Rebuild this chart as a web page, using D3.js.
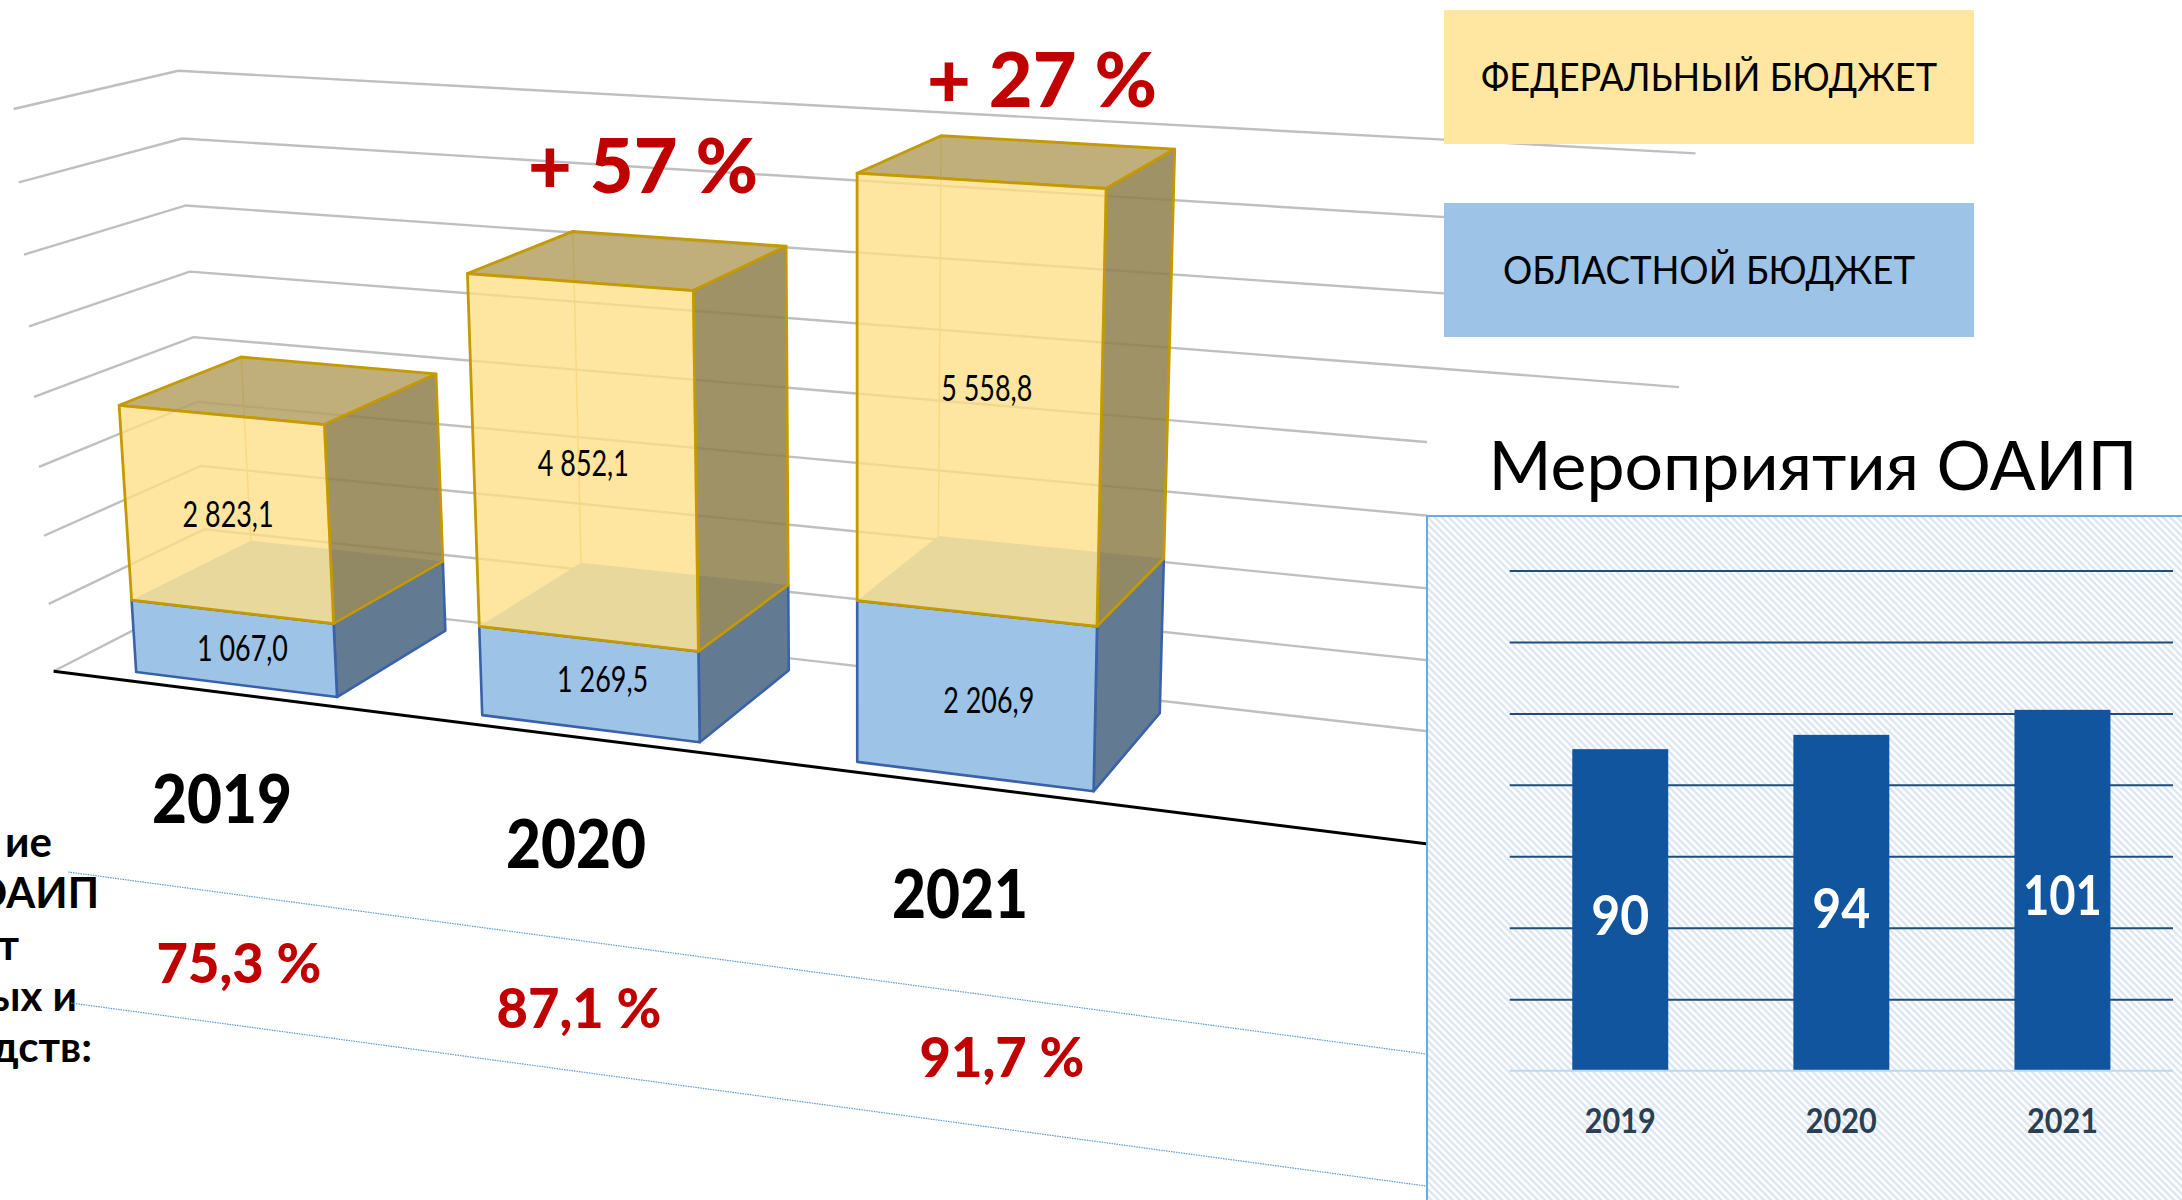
<!DOCTYPE html>
<html>
<head>
<meta charset="utf-8">
<title>Бюджет ОАИП</title>
<script src="https://cdnjs.cloudflare.com/ajax/libs/d3/7.8.5/d3.min.js"></script>
<style>
    html, body { margin: 0; padding: 0; background: #fff; overflow: hidden; }
    text { font-family: Lato, "Open Sans", sans-serif; }
</style>
</head>
<body>
<div id="chart"></div>
<script>
// data
var years = ["2019", "2020", "2021"];
var regional = [1067.0, 1269.5, 2206.9];
var federal = [2823.1, 4852.1, 5558.8];
var growthLabels = ["+ 57 %", "+ 27 %"];
var shareLabels = ["75,3 %", "87,1 %", "91,7 %"];
var legendLabels = ["ФЕДЕРАЛЬНЫЙ БЮДЖЕТ", "ОБЛАСТНОЙ БЮДЖЕТ"];
var sideLines = ["ие", "ОАИП", "т", "ых и", "дств:"];
var eventCounts = [90, 94, 101];
var panelTitle = "Мероприятия ОАИП";

function init() {
    var w = 2182;
    var h = 1200;

    var svg = d3.select("#chart")
                .append("svg")
                .attr("width", w)
                .attr("height", h);

    var defs = svg.append("defs");
    var hatch = defs.append("pattern")
                .attr("id", "hatch")
                .attr("patternUnits", "userSpaceOnUse")
                .attr("width", 5)
                .attr("height", 5)
                .attr("patternTransform", "rotate(45)");
    hatch.append("rect").attr("width", 5).attr("height", 5).attr("fill", "#fff");
    hatch.append("rect").attr("width", 5).attr("height", 2.5).attr("fill", "#dce6f2");

    // 3d camera: three vanishing points and the floor corner of the chart
    var vpX = [-8470, -400], vpY = [860, 12000], vpZ = [2077, -370];
    var origin = [53.6, 671.3];
    var kx = -0.13877, ky = -0.04729, kz = 0.08261;

    function project(x, y, z) {
        var a = kx * x, b = ky * y, c = kz * z;
        var d = a + b + c + 1;
        return [
            (a * vpX[0] + b * vpY[0] + c * vpZ[0] + origin[0]) / d,
            (a * vpX[1] + b * vpY[1] + c * vpZ[1] + origin[1]) / d
        ];
    }

    // a 4th empty slot sits behind the small panel
    var x3 = d3.scaleBand()
                .domain(years.concat([""]))
                .range([0, 1.1136])
                .paddingInner(0.41)
                .paddingOuter(0.205);
    var y3 = d3.scaleLinear().domain([0, 8000]).range([0, 1]);
    var z3 = d3.scaleLinear().domain([0, 1]).range([0.09, 0.875]);

    var line = d3.line();

    function face(pts) {
        return line(pts.map(function(p) { return project(p[0], p[1], p[2]); })) + "Z";
    }

    // squeeze a label to the width it has in the picture
    function fit(sel, width) {
        return sel.attr("textLength", width).attr("lengthAdjust", "spacingAndGlyphs");
    }

    // gridlines on the two walls
    var grid = svg.append("g")
                .attr("fill", "none")
                .attr("stroke", "#bfbfbf")
                .attr("stroke-width", 2.4);
    y3.ticks(8).forEach(function(t) {
        grid.append("path").attr("d", line([
            project(0, y3(t), 0),
            project(0, y3(t), 1),
            project(1.1136, y3(t), 1)
        ]));
    });

    // the black axis at the front of the floor
    svg.append("path")
        .attr("d", line([project(0, 0, 0), project(1.1136, 0, 0)]))
        .attr("fill", "none")
        .attr("stroke", "#000")
        .attr("stroke-width", 3);

    // stacked boxes
    var bars = svg.append("g").attr("stroke-linejoin", "round");
    years.forEach(function(year, i) {
        var x0 = x3(year), x1 = x0 + x3.bandwidth();
        var zf = z3(0), zb = z3(1);
        var y0 = y3(0), y1 = y3(regional[i]), y2 = y3(regional[i] + federal[i]);

        // regional part is solid
        var blue = bars.append("g").attr("stroke", "#3a62a8").attr("stroke-width", 2.6);
        blue.append("path")
            .attr("d", face([[x0, y1, zf], [x1, y1, zf], [x1, y1, zb], [x0, y1, zb]]))
            .attr("fill", "#9dc3e6").attr("stroke", "none");
        blue.append("path")
            .attr("d", face([[x1, y0, zf], [x1, y0, zb], [x1, y1, zb], [x1, y1, zf]]))
            .attr("fill", "#637a93");
        blue.append("path")
            .attr("d", face([[x0, y0, zf], [x1, y0, zf], [x1, y1, zf], [x0, y1, zf]]))
            .attr("fill", "#9dc3e6");

        // federal part is see-through
        var gold = bars.append("g")
                    .attr("stroke", "#c49a00")
                    .attr("stroke-width", 2.8);
        gold.append("path")
            .attr("d", line([project(x0, y1, zb), project(x0, y2, zb)]))
            .attr("fill", "none")
            .attr("stroke", "#eec964")
            .attr("stroke-width", 1.5);
        gold.append("path")
            .attr("d", face([[x0, y2, zf], [x1, y2, zf], [x1, y2, zb], [x0, y2, zb]]))
            .attr("fill", "#b5a163")
            .attr("fill-opacity", 0.85);
        gold.append("path")
            .attr("d", face([[x1, y1, zf], [x1, y1, zb], [x1, y2, zb], [x1, y2, zf]]))
            .attr("fill", "#8f7f4c")
            .attr("fill-opacity", 0.85);
        gold.append("path")
            .attr("d", face([[x0, y1, zf], [x1, y1, zf], [x1, y2, zf], [x0, y2, zf]]))
            .attr("fill", "#fede85")
            .attr("fill-opacity", 0.78);
    });

    // value labels sit on the front faces, nudged a little like in the picture
    var nudgeBlue = [[9, 1], [14, -4], [14, 6]];
    var nudgeGold = [[2, 1], [0, 1], [9, -12]];
    var fmt = function(v) {
        var s = v.toFixed(1).replace(".", ",");
        return s.replace(/^(\d)(\d{3})/, "$1 $2");
    };
    function valueLabel(year, v, mid, nudge) {
        var p = project(x3(year) + x3.bandwidth() / 2, y3(mid), z3(0));
        fit(svg.append("text")
            .attr("x", p[0] + nudge[0])
            .attr("y", p[1] + nudge[1] + 12)
            .attr("text-anchor", "middle")
            .attr("font-size", 36)
            .attr("fill", "#000")
            .text(fmt(v)), 91);
    }
    years.forEach(function(year, i) {
        valueLabel(year, federal[i], regional[i] + federal[i] / 2, nudgeGold[i]);
        valueLabel(year, regional[i], regional[i] / 2, nudgeBlue[i]);
    });

    // growth notes above the boxes
    var growthAt = [[643, 193], [1042, 107]];
    growthLabels.forEach(function(t, i) {
        fit(svg.append("text")
            .attr("x", growthAt[i][0])
            .attr("y", growthAt[i][1])
            .attr("text-anchor", "middle")
            .attr("font-size", 76)
            .attr("font-weight", 900)
            .attr("fill", "#c00000")
            .text(t), 230);
    });

    // years and shares under the floor
    var yearAt = [[222, 823], [576, 868], [960, 918]];
    var yearWidth = [140, 140, 136];
    var shareAt = [[239, 983], [579, 1028], [1002, 1077]];
    years.forEach(function(year, i) {
        fit(svg.append("text")
            .attr("x", yearAt[i][0])
            .attr("y", yearAt[i][1])
            .attr("text-anchor", "middle")
            .attr("font-size", 66)
            .attr("font-weight", 900)
            .attr("fill", "#000")
            .text(year), yearWidth[i]);
        fit(svg.append("text")
            .attr("x", shareAt[i][0])
            .attr("y", shareAt[i][1])
            .attr("text-anchor", "middle")
            .attr("font-size", 55)
            .attr("font-weight", 900)
            .attr("fill", "#c00000")
            .text(shareLabels[i]), 165);
    });

    // text running in from the left edge
    var sideAt = [[52, 857], [99, 908], [19, 960], [77, 1011], [92, 1062]];
    sideLines.forEach(function(t, i) {
        svg.append("text")
            .attr("x", sideAt[i][0])
            .attr("y", sideAt[i][1])
            .attr("text-anchor", "end")
            .attr("font-size", 42)
            .attr("font-weight", 700)
            .attr("fill", "#000")
            .text(t);
    });

    // dotted table rules
    var rules = [[[68, 872], [1426, 1054]], [[71, 1003], [1426, 1186]]];
    rules.forEach(function(r) {
        svg.append("path")
            .attr("d", line(r))
            .attr("fill", "none")
            .attr("stroke", "#5b9bd5")
            .attr("stroke-width", 1.2)
            .attr("stroke-dasharray", "1.5 1");
    });

    // legend
    var legendTop = [10, 203];
    var legendColor = ["#ffe6a1", "#9dc3e6"];
    var legendWidth = [456, 412];
    legendLabels.forEach(function(t, i) {
        svg.append("rect")
            .attr("x", 1444)
            .attr("y", legendTop[i])
            .attr("width", 530)
            .attr("height", 134)
            .attr("fill", legendColor[i]);
        fit(svg.append("text")
            .attr("x", 1709)
            .attr("y", legendTop[i] + 81)
            .attr("text-anchor", "middle")
            .attr("font-size", 38)
            .attr("fill", "#000")
            .text(t), legendWidth[i]);
    });

    // small panel on the right
    svg.append("rect")
        .attr("x", 1427)
        .attr("y", 400)
        .attr("width", w - 1427)
        .attr("height", 116)
        .attr("fill", "#fff");
    svg.append("text")
        .attr("x", 1813)
        .attr("y", 490)
        .attr("text-anchor", "middle")
        .attr("font-size", 68)
        .attr("fill", "#000")
        .text(panelTitle);
    svg.append("rect")
        .attr("x", 1427)
        .attr("y", 516)
        .attr("width", w - 1427 + 5)
        .attr("height", h - 516 + 5)
        .attr("fill", "url(#hatch)")
        .attr("stroke", "#6fa8dc")
        .attr("stroke-width", 2);

    var xs = d3.scaleBand()
                .domain(years)
                .range([1509.7, 2173])
                .paddingInner(0.566)
                .paddingOuter(0.283);
    var ys = d3.scaleLinear().domain([0, 140]).range([1070.7, 570.5]);

    var sGrid = d3.axisLeft(ys).tickValues(d3.range(20, 141, 20))
                .tickSize(-(2173 - 1509.7)).tickFormat("");
    var gridG = svg.append("g")
                .attr("transform", "translate(1509.7,0)")
                .call(sGrid);
    gridG.select(".domain").remove();
    gridG.selectAll("line").attr("stroke", "#1f4e79").attr("stroke-width", 2);

    svg.selectAll("rect.event")
        .data(eventCounts)
        .enter()
        .append("rect")
        .attr("class", "event")
        .attr("x", function(d, i) { return xs(years[i]); })
        .attr("y", function(d) { return ys(d); })
        .attr("width", xs.bandwidth())
        .attr("height", function(d) { return ys(0) - ys(d); })
        .attr("fill", "#12559f");

    svg.append("line")
        .attr("x1", 1509.7)
        .attr("x2", 2173)
        .attr("y1", ys(0))
        .attr("y2", ys(0))
        .attr("stroke", "#bdd7ee")
        .attr("stroke-width", 2);

    var countWidth = [58, 58, 79];
    svg.selectAll("text.count")
        .data(eventCounts)
        .enter()
        .append("text")
        .attr("class", "count")
        .attr("x", function(d, i) { return xs(years[i]) + xs.bandwidth() / 2; })
        .attr("y", function(d) { return (ys(0) + ys(d)) / 2 + 25; })
        .attr("text-anchor", "middle")
        .attr("font-size", 56)
        .attr("font-weight", 700)
        .attr("fill", "#fff")
        .attr("textLength", function(d, i) { return countWidth[i]; })
        .attr("lengthAdjust", "spacingAndGlyphs")
        .text(function(d) { return d; });

    svg.selectAll("text.syear")
        .data(years)
        .enter()
        .append("text")
        .attr("class", "syear")
        .attr("x", function(d) { return xs(d) + xs.bandwidth() / 2; })
        .attr("y", 1133)
        .attr("text-anchor", "middle")
        .attr("font-size", 34)
        .attr("font-weight", 700)
        .attr("fill", "#2a3f52")
        .attr("textLength", 71)
        .attr("lengthAdjust", "spacingAndGlyphs")
        .text(function(d) { return d; });
}
window.onload = init;
</script>
</body>
</html>
